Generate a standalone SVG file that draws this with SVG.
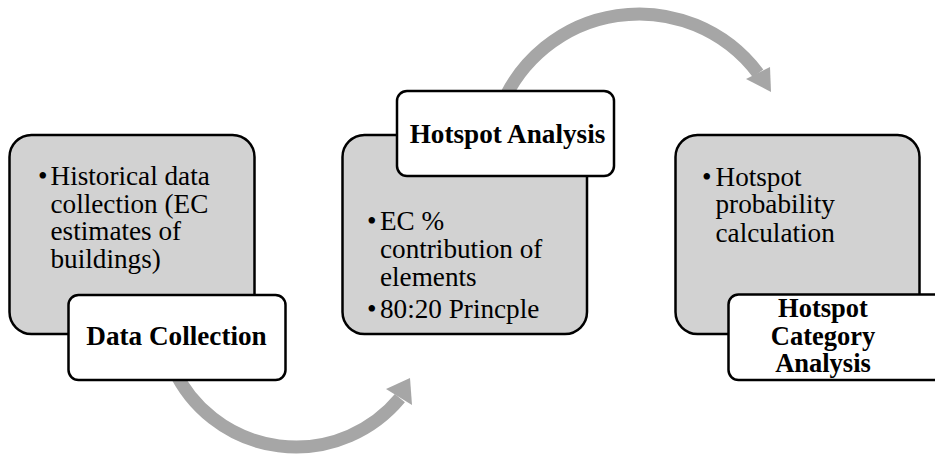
<svg xmlns="http://www.w3.org/2000/svg" width="935" height="455" viewBox="0 0 935 455">
  <defs>
    <style>
      .gray { fill: #d2d2d2; stroke: #000; stroke-width: 2.5; }
      .white { fill: #fff; stroke: #000; stroke-width: 2.5; }
      .arc { fill: none; stroke: #a6a6a6; stroke-width: 13; }
      .head { fill: #a6a6a6; stroke: none; }
      .body { font-family: "Liberation Serif", "Times New Roman", serif; font-size: 27.2px; fill: #000; }
      .title { font-family: "Liberation Serif", "Times New Roman", serif; font-size: 27.2px; font-weight: bold; fill: #000; text-anchor: middle; }
      .title3 { font-family: "Liberation Serif", "Times New Roman", serif; font-size: 26.5px; font-weight: bold; fill: #000; text-anchor: middle; }
    </style>
  </defs>
  <rect width="935" height="455" fill="#fff"/>

  <g id="connectors">
    <path class="arc" d="M 173.6 369 A 135 135 0 0 0 399.9 398.2"/>
    <polygon class="head" points="386,389 410,378 412,405"/>
    <path class="arc" d="M 499 112 A 149 149 0 0 1 758.1 73.4"/>
    <polygon class="head" points="746,79 770,67 771,92"/>
  </g>

  <g id="node-data-collection">
    <rect class="gray" x="9.5" y="135" width="245" height="199" rx="22"/>
    <text class="body" x="38" y="185">•</text>
    <text class="body"><tspan x="50.5" y="185">Historical data</tspan><tspan x="50.5" y="212.7">collection (EC</tspan><tspan x="50.5" y="240.4">estimates of</tspan><tspan x="50.5" y="268">buildings)</tspan></text>
    <rect class="white" x="68.5" y="295" width="217" height="85" rx="10"/>
    <text class="title" x="176.5" y="345">Data Collection</text>
  </g>

  <g id="node-hotspot-analysis">
    <rect class="gray" x="342.5" y="135" width="244.5" height="199" rx="22"/>
    <text class="body" x="367" y="230">•</text>
    <text class="body"><tspan x="380" y="230">EC %</tspan><tspan x="380" y="258.3">contribution of</tspan><tspan x="380" y="286">elements</tspan></text>
    <text class="body" x="367" y="318">•</text>
    <text class="body" x="380" y="318">80:20 Princple</text>
    <rect class="white" x="397" y="91" width="217" height="85" rx="10"/>
    <text class="title" x="507.5" y="143.3">Hotspot Analysis</text>
  </g>

  <g id="node-hotspot-category">
    <rect class="gray" x="675.5" y="135" width="244" height="199" rx="22"/>
    <text class="body" x="702" y="186">•</text>
    <text class="body"><tspan x="715.5" y="186">Hotspot</tspan><tspan x="715.5" y="213.3">probability</tspan><tspan x="715.5" y="241.5">calculation</tspan></text>
    <rect class="white" x="728.5" y="294.5" width="217" height="85.5" rx="10"/>
    <text class="title3"><tspan x="823" y="317">Hotspot</tspan><tspan x="823" y="345">Category</tspan><tspan x="823" y="372">Analysis</tspan></text>
  </g>
</svg>
